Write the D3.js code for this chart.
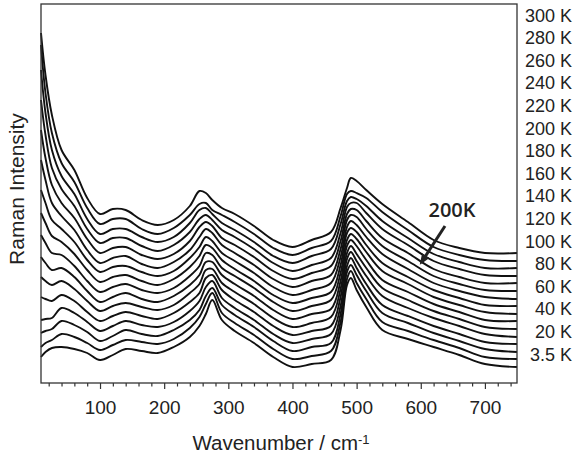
<!DOCTYPE html>
<html>
<head>
<meta charset="utf-8">
<script src="https://cdn.jsdelivr.net/npm/d3@7"></script>
<style>
  body { margin: 0; background: #fff; }
  svg { display: block; }
  text { font-family: "Liberation Sans", Arial, sans-serif; fill: #222; }
</style>
</head>
<body>
<svg id="chart" width="575" height="458"></svg>
<script>
// wavenumber sample points (cm-1)
const wavenumbers = [8, 15, 25, 40, 60, 80, 100, 120, 140, 165, 190, 215, 240, 255, 265, 275, 290, 310,
  340, 370, 400, 430, 460, 475, 485, 491, 500, 515, 540, 580, 620, 660, 700, 750];

// stacked spectra, arbitrary intensity units (offset included)
const i3p5K = [26, 31, 35, 36, 34, 30, 23, 28, 34, 32, 30, 36, 46, 57, 69, 83, 63, 52, 40, 26, 16, 19, 23, 53, 98, 105, 93, 76, 53, 44, 36, 28, 19, 16];
const i20K = [36, 40, 43, 49, 46, 40, 33, 38, 43, 41, 39, 44, 55, 66, 79, 90, 70, 60, 48, 34, 24, 27, 32, 61, 104, 112, 100, 84, 61, 52, 43, 35, 26, 24];
const i40K = [50, 52, 54, 62, 58, 51, 42, 47, 53, 49, 47, 53, 63, 73, 87, 95, 78, 68, 56, 42, 32, 36, 40, 69, 111, 118, 108, 92, 70, 60, 50, 42, 34, 31];
const i60K = [63, 64, 65, 75, 70, 61, 52, 57, 62, 58, 56, 61, 72, 82, 96, 102, 85, 75, 63, 49, 40, 44, 49, 77, 117, 125, 115, 99, 78, 67, 57, 49, 41, 39];
const i80K = [86, 84, 82, 88, 82, 71, 62, 67, 71, 67, 64, 70, 81, 90, 105, 108, 93, 83, 71, 57, 48, 52, 57, 86, 124, 131, 122, 107, 87, 75, 65, 57, 49, 46];
const i100K = [106, 102, 98, 102, 94, 82, 72, 77, 80, 76, 73, 78, 90, 99, 113, 114, 100, 91, 79, 65, 56, 60, 66, 94, 130, 137, 129, 115, 95, 83, 72, 64, 56, 54];
const i120K = [126, 120, 113, 115, 106, 92, 81, 86, 90, 84, 81, 87, 98, 108, 121, 121, 108, 99, 87, 73, 64, 69, 74, 102, 137, 143, 137, 123, 103, 91, 79, 71, 63, 62];
const i140K = [148, 140, 130, 128, 117, 102, 91, 96, 99, 93, 90, 95, 107, 117, 130, 128, 115, 107, 95, 81, 72, 77, 83, 110, 143, 149, 144, 131, 112, 99, 86, 78, 71, 69];
const i160K = [170, 160, 147, 141, 129, 113, 101, 106, 108, 102, 98, 104, 116, 127, 138, 135, 123, 114, 102, 88, 80, 85, 91, 118, 150, 155, 151, 138, 120, 106, 93, 85, 78, 77];
const i180K = [193, 180, 163, 154, 141, 123, 111, 116, 117, 111, 107, 112, 125, 136, 146, 142, 130, 122, 110, 96, 88, 93, 100, 126, 156, 162, 158, 146, 129, 114, 100, 92, 86, 84];
const i200K = [223, 203, 180, 167, 153, 133, 120, 125, 127, 119, 115, 121, 133, 146, 154, 150, 138, 130, 118, 104, 96, 102, 108, 134, 163, 168, 166, 154, 137, 122, 107, 99, 93, 92];
const i220K = [253, 225, 198, 180, 165, 144, 130, 135, 136, 128, 124, 129, 142, 156, 161, 157, 145, 138, 126, 112, 104, 110, 117, 142, 169, 174, 173, 162, 145, 130, 114, 106, 100, 100];
const i240K = [283, 248, 215, 194, 177, 154, 140, 145, 145, 137, 132, 138, 151, 164, 168, 163, 153, 146, 134, 120, 112, 118, 125, 150, 176, 180, 180, 170, 154, 138, 122, 114, 108, 107];
const i260K = [313, 270, 233, 207, 189, 164, 149, 154, 154, 146, 141, 146, 160, 173, 175, 169, 160, 153, 141, 127, 120, 127, 134, 159, 182, 186, 184, 177, 162, 145, 129, 121, 115, 115];
const i280K = [338, 290, 250, 220, 201, 175, 159, 164, 164, 154, 149, 155, 168, 179, 180, 173, 168, 161, 149, 135, 128, 135, 142, 167, 189, 192, 190, 185, 171, 153, 136, 128, 123, 122];
const i300K = [350, 308, 268, 233, 213, 185, 169, 174, 173, 163, 158, 163, 177, 192, 190, 183, 175, 169, 157, 143, 136, 143, 151, 175, 195, 205, 202, 193, 179, 161, 143, 135, 130, 130];

const spectra = [i3p5K, i20K, i40K, i60K, i80K, i100K, i120K, i140K, i160K, i180K,
  i200K, i220K, i240K, i260K, i280K, i300K];

// legend list on the right, top to bottom
const tempLabels = ['300 K', '280 K', '260 K', '240 K', '220 K', '200 K', '180 K', '160 K',
  '140 K', '120 K', '100 K', '80 K', '60 K', '40 K', '20 K', '3.5 K'];

const majorTicks = [100, 200, 300, 400, 500, 600, 700];
const minorTicks = d3.range(20, 750, 20).filter(v => v % 100 !== 0);

const svg = d3.select('#chart');
const box = { left: 41, top: 4, right: 517, bottom: 383 };

const x = d3.scaleLinear().domain([8, 750]).range([box.left, box.right]);
const y = d3.scaleLinear().domain([0, 379]).range([box.bottom, box.top]);

// spectra
const line = d3.line()
  .x((d, i) => x(wavenumbers[i]))
  .y(d => y(d))
  .curve(d3.curveCatmullRom.alpha(0.5));

svg.append('g')
  .selectAll('path')
  .data(spectra)
  .enter()
  .append('path')
  .attr('d', line)
  .attr('fill', 'none')
  .attr('stroke', '#111')
  .attr('stroke-width', 1.9)
  .attr('stroke-linejoin', 'round');

// frame
svg.append('rect')
  .attr('x', box.left)
  .attr('y', box.top)
  .attr('width', box.right - box.left)
  .attr('height', box.bottom - box.top)
  .attr('fill', 'none')
  .attr('stroke', '#333')
  .attr('stroke-width', 1.3);

// x axis
const xMinor = svg.append('g')
  .attr('transform', `translate(0,${box.bottom})`)
  .call(d3.axisBottom(x).tickValues(minorTicks).tickSize(3.5).tickFormat(''));
xMinor.select('.domain').remove();
xMinor.selectAll('line').attr('stroke', '#333').attr('stroke-width', 1.2);

const xMajor = svg.append('g')
  .attr('transform', `translate(0,${box.bottom})`)
  .call(d3.axisBottom(x).tickValues(majorTicks).tickSize(6).tickPadding(12));
xMajor.select('.domain').remove();
xMajor.selectAll('line').attr('stroke', '#333').attr('stroke-width', 1.2);
xMajor.selectAll('text')
  .attr('fill', '#222')
  .style('font-size', '19px')
  .style('font-family', '"Liberation Sans", Arial, sans-serif');

// axis titles
const xTitle = svg.append('text')
  .attr('x', 281)
  .attr('y', 450)
  .attr('text-anchor', 'middle')
  .style('font-size', '20.5px')
  .text('Wavenumber / cm');
xTitle.append('tspan')
  .attr('dy', '-0.5em')
  .style('font-size', '13px')
  .text('-1');

svg.append('text')
  .attr('transform', 'translate(24,189) rotate(-90)')
  .attr('text-anchor', 'middle')
  .style('font-size', '21px')
  .text('Raman Intensity');

// temperature list
const ty = d3.scalePoint().domain(tempLabels).range([15, 354]);
svg.append('g')
  .selectAll('text')
  .data(tempLabels)
  .enter()
  .append('text')
  .attr('x', 572)
  .attr('y', d => ty(d) + 6.5)
  .attr('text-anchor', 'end')
  .style('font-size', '18px')
  .text(d => d);

// 200K annotation
svg.append('defs').append('marker')
  .attr('id', 'head')
  .attr('markerUnits', 'userSpaceOnUse')
  .attr('viewBox', '0 0 10 10')
  .attr('refX', 8)
  .attr('refY', 5)
  .attr('markerWidth', 11)
  .attr('markerHeight', 11)
  .attr('orient', 'auto')
  .append('path')
  .attr('d', 'M0,1 L10,5 L0,9 Z')
  .attr('fill', '#222');

svg.append('line')
  .attr('x1', 445)
  .attr('y1', 226)
  .attr('x2', 421)
  .attr('y2', 263)
  .attr('stroke', '#222')
  .attr('stroke-width', 3)
  .attr('marker-end', 'url(#head)');

svg.append('text')
  .attr('x', 452)
  .attr('y', 217)
  .attr('text-anchor', 'middle')
  .style('font-family', '"Open Sans", sans-serif')
  .style('font-weight', 600)
  .style('font-size', '20px')
  .attr('fill', '#333')
  .text('200K');
</script>
</body>
</html>
